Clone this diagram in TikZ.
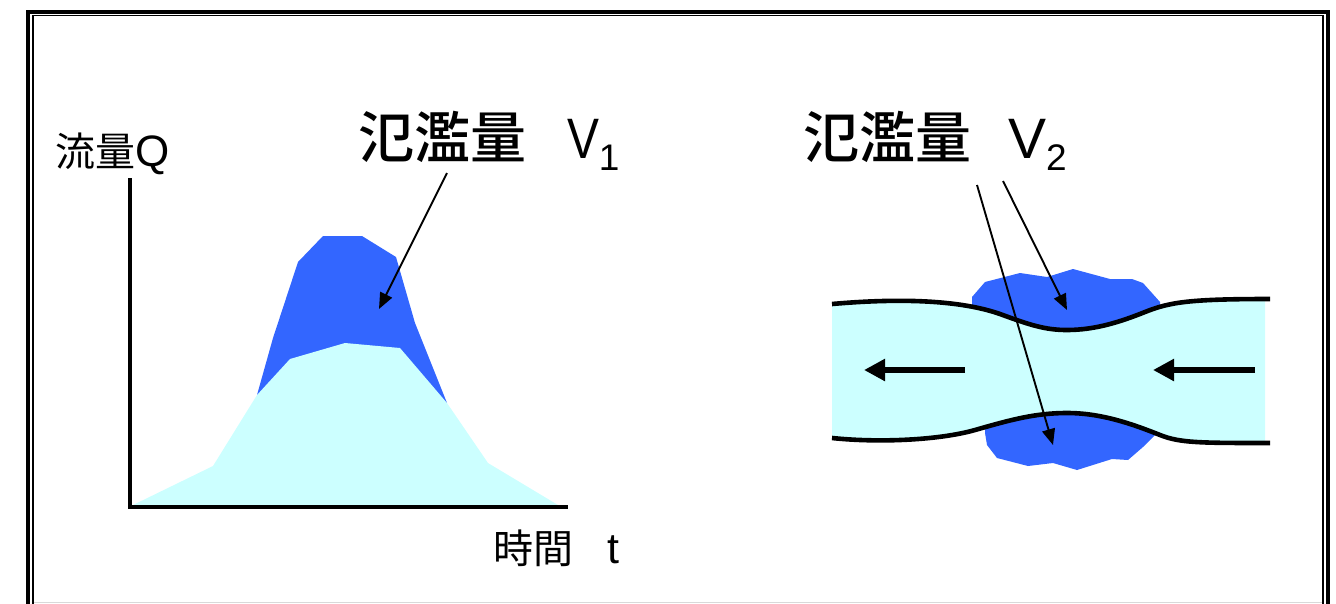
\documentclass[tikz,border=0pt]{standalone}
\usepackage{fontspec}
\setmainfont{Liberation Sans}
\newfontfamily\cjk{Noto Sans CJK JP}
\newfontfamily\cjkmed{Noto Sans CJK JP Medium}
\usetikzlibrary{arrows.meta}
\definecolor{floodblue}{HTML}{3366FF}
\definecolor{rivercyan}{HTML}{CCFFFF}
\tikzset{
  label/.style={anchor=base west, inner sep=0pt, outer sep=0pt},
  ptr/.style={line width=1.9pt, -{Triangle[length=16pt,width=13pt]}},
  flow/.style={line width=6pt, -{Triangle[length=21pt,width=21pt]}},
  bank/.style={line width=4.6pt, line cap=butt},
  axis/.style={line width=3.2pt, line join=miter},
}
\begin{document}
\begin{tikzpicture}[x=1pt,y=-1pt]
\useasboundingbox (0,0) rectangle (1336,603);
\clip (0,0) rectangle (1336,603);

% frame
\draw[line width=4pt] (28,11.5) rectangle (1328,660);
\draw[line width=1.8pt] (33,15.5) rectangle (1323,660);
\draw[black!15, line width=1pt] (34,602.5) -- (1322,602.5);

% hydrograph
\fill[floodblue] (257,395) -- (273,338) -- (298,262) -- (323,236) -- (362,236)
  -- (396,257) -- (415,323) -- (447,403) -- cycle;
\fill[rivercyan] (133,505) -- (213,466) -- (257,395) -- (290,359) -- (345,343)
  -- (400,348) -- (447,403) -- (488,463) -- (558,505) -- cycle;
\draw[axis] (130,178) -- (130,507) -- (568,507);

% labels
\node[label] (ylab) at (55,166) {\fontsize{40}{40}\selectfont{\cjk 流量}\fontsize{44}{44}\selectfont Q};
\node[label] (xlab) at (493,563) {\fontsize{40}{40}\selectfont{\cjk 時間}\hspace{34pt}\fontsize{43}{43}\selectfont t};
\node[label] (v1) at (358,158) {\fontsize{56}{56}\selectfont{\cjkmed 氾濫量}\hspace{41pt}\fontsize{57}{57}\selectfont\scalebox{0.84}[1]{V}\raisebox{-12pt}{\fontsize{37}{37}\selectfont 1}};
\node[label] (v2) at (803,158) {\fontsize{56}{56}\selectfont{\cjkmed 氾濫量}\hspace{37pt}\fontsize{57}{57}\selectfont V\raisebox{-12pt}{\fontsize{37}{37}\selectfont 2}};

% pointer arrow V1
\coordinate (p1s) at (447,173);
\coordinate (p1e) at (379,309);
\draw[ptr] (p1s) -- (p1e);

% river: flooded areas
\fill[floodblue] (973,340) -- (972,297) -- (985,282) -- (1020,273) -- (1047,277)
  -- (1073,269) -- (1110,279) -- (1132,279) -- (1143,283) -- (1160,302)
  -- (1160,340) -- cycle;
\fill[floodblue] (985,400) -- (985,433) -- (987,445) -- (997,458) -- (1028,466)
  -- (1053,463) -- (1077,470) -- (1112,459) -- (1128,460) -- (1143,447)
  -- (1155,435) -- (1155,400) -- cycle;

% river water
\begin{scope}
\clip (832,250) rectangle (1265,480);
\fill[rivercyan] (832,304) .. controls (900,298) and (960,300) .. (1000,314)
  .. controls (1030,325) and (1045,330) .. (1067,330)
  .. controls (1095,330) and (1120,322) .. (1145,312)
  .. controls (1170,302) and (1190,299) .. (1270,299)
  -- (1270,443)
  .. controls (1200,443) and (1180,443) .. (1160,435)
  .. controls (1130,423) and (1100,413) .. (1067,413)
  .. controls (1035,413) and (1010,420) .. (975,430)
  .. controls (940,440) and (880,443) .. (832,438) -- cycle;
\end{scope}

% banks
\draw[bank] (832,304) .. controls (900,298) and (960,300) .. (1000,314)
  .. controls (1030,325) and (1045,330) .. (1067,330)
  .. controls (1095,330) and (1120,322) .. (1145,312)
  .. controls (1170,302) and (1190,299) .. (1270,299);
\draw[bank] (832,438) .. controls (880,443) and (940,440) .. (975,430)
  .. controls (1010,420) and (1035,413) .. (1067,413)
  .. controls (1100,413) and (1130,423) .. (1160,435)
  .. controls (1180,443) and (1200,443) .. (1270,443);

% flow arrows
\coordinate (fl1s) at (965,370);
\coordinate (fl1e) at (864,370);
\coordinate (fl2s) at (1255,370);
\coordinate (fl2e) at (1153,370);
\draw[flow] (fl1s) -- (fl1e);
\draw[flow] (fl2s) -- (fl2e);

% pointer arrows V2
\coordinate (p2s) at (1003,181);
\coordinate (p2e) at (1067,310);
\coordinate (p3s) at (977,185);
\coordinate (p3e) at (1053,445);
\draw[ptr] (p2s) -- (p2e);
\draw[ptr] (p3s) -- (p3e);
\end{tikzpicture}
\end{document}
